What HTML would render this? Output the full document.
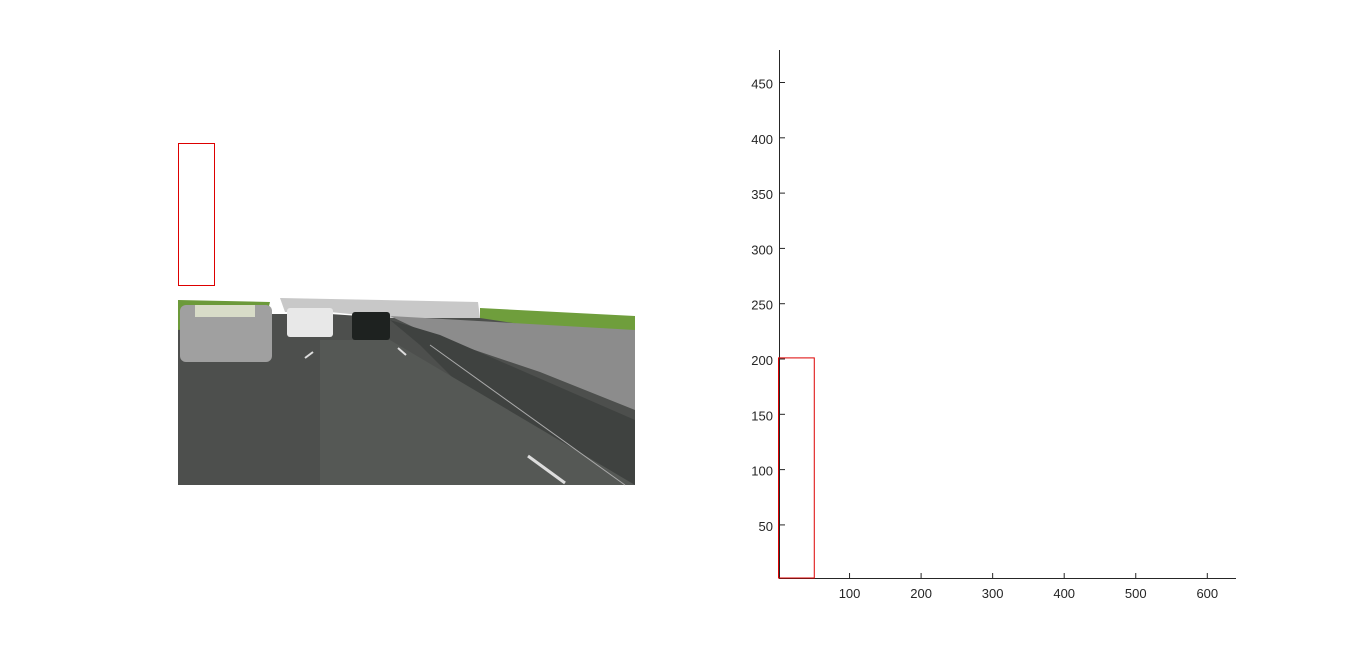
<!DOCTYPE html>
<html><head><meta charset="utf-8"><style>
body{margin:0;background:#fff;width:1366px;height:651px;overflow:hidden;font-family:"Liberation Sans",sans-serif}
</style></head><body>
<svg width="1366" height="651" style="position:absolute;left:0;top:0">
<g>
<rect x="178" y="300" width="457" height="185" fill="#4d4f4d"/>
<polygon points="178,300 635,300 635,318 390,318 330,314 270,314 178,312" fill="#ffffff"/>
<polygon points="178,300 270,302 265,322 178,330" fill="#6c9a3a"/>
<polygon points="280,298 478,302 480,318 390,318 330,312 285,312" fill="#c8c8c8"/>
<polygon points="480,308 635,316 635,330 560,330 480,318" fill="#6f9e3c"/>
<polygon points="390,316 635,330 635,410 540,372 430,335" fill="#8c8c8c"/>
<polygon points="390,320 440,335 635,420 635,485 560,485 420,345" fill="#3f4240"/>
<polygon points="320,340 390,340 635,485 320,485" fill="#555855"/>
<rect x="180" y="305" width="92" height="57" rx="6" fill="#a0a0a0"/>
<rect x="195" y="305" width="60" height="12" fill="#d8dcc8"/>
<rect x="287" y="308" width="46" height="29" rx="3" fill="#e8e8e8"/>
<rect x="352" y="312" width="38" height="28" rx="3" fill="#1e2220"/>
<line x1="528" y1="456" x2="565" y2="483" stroke="#ddd" stroke-width="3"/>
<line x1="305" y1="358" x2="313" y2="352" stroke="#ddd" stroke-width="2"/>
<line x1="398" y1="348" x2="406" y2="355" stroke="#ddd" stroke-width="2"/>
<line x1="430" y1="345" x2="625" y2="485" stroke="#aaa" stroke-width="1"/>
</g>
<rect x="178.5" y="143.5" width="36" height="142" fill="none" stroke="#d00" stroke-width="1"/>
<g id="chart"></g>
</svg>
<script>
const xTicks=[100,200,300,400,500,600];
const yTicks=[50,100,150,200,250,300,350,400,450];
const barX0=[0];
const barX1=[50];
const barH=[201];
const X0=778,PX=0.7155,Y0=578,PY=1.106;
const xs=v=>X0+v*PX, ys=v=>Y0-(v-2)*PY;
const g=document.getElementById('chart');
const NS='http://www.w3.org/2000/svg';
function mk(t,a){const e=document.createElementNS(NS,t);for(const k in a)e.setAttribute(k,a[k]);g.appendChild(e);return e;}
let ax=mk('line',{x1:779.5,y1:50,x2:779.5,y2:578,stroke:'#262626'});


let ax2=mk('line',{x1:779,y1:578.5,x2:1236,y2:578.5,stroke:'#262626'});


xTicks.forEach(v=>{const x=xs(v);
mk('line',{x1:x,y1:578,x2:x,y2:573,stroke:'#262626'});
const t=mk('text',{x:x,y:598,'text-anchor':'middle','font-size':13,fill:'#262626'});t.textContent=v;

});
yTicks.forEach(v=>{const y=ys(v);
mk('line',{x1:780,y1:y,x2:785,y2:y,stroke:'#262626'});
const t=mk('text',{x:773,y:y+6,'text-anchor':'end','font-size':13,fill:'#262626'});t.textContent=v;

});
barH.forEach((h,i)=>{const x=xs(barX0[i]),w=xs(barX1[i])-xs(barX0[i]);
const r=mk('rect',{x:x+0.5,y:ys(h),width:w,height:Y0-ys(h),fill:'none',stroke:'#d00'});

});
</script>
</body></html>
